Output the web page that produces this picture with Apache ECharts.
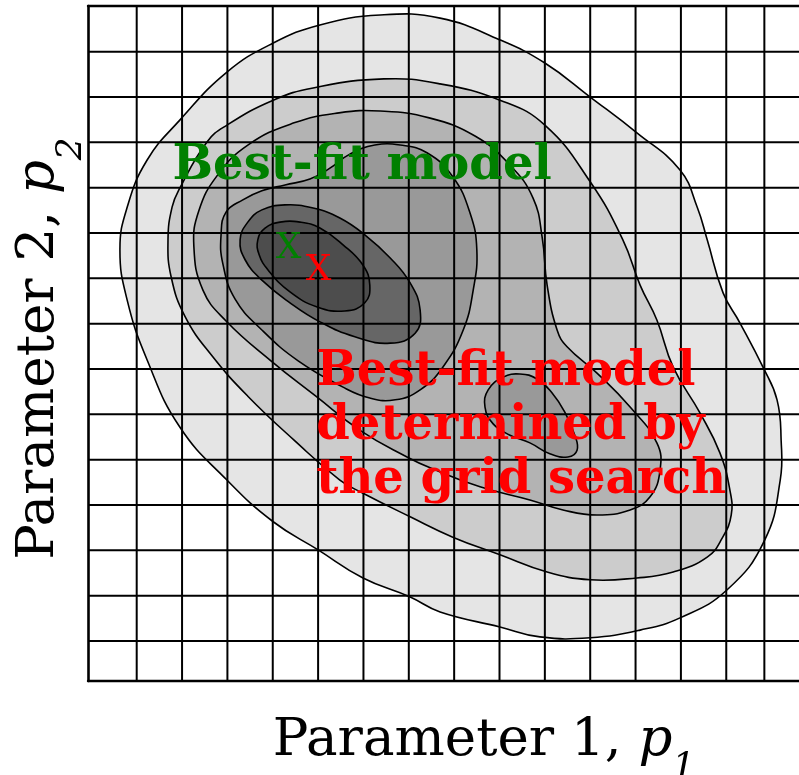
<!DOCTYPE html>
<html><head><meta charset="utf-8">
<script src="https://cdn.jsdelivr.net/npm/echarts@6/dist/echarts.min.js"></script>
<style>html,body{margin:0;padding:0;background:#fff}#c{width:799px;height:775px}</style>
</head><body><div id="c"></div>
<script>
// ---- data (units: one grid cell = 1) ----
const gridX = [1,2,3,4,5,6,7,8,9,10,11,12,13,14,14.84];
const gridY = [1,2,3,4,5,6,7,8,9,10,11,12,13,14];

const contour1 = [[6.37,14.81],[7.69,14.74],[9.01,14.26],[10.00,13.75],[11.00,13.00],[12.03,12.21],[12.98,11.39],[13.36,10.57],[13.58,9.85],[13.93,8.68],[14.30,8.02],[14.81,7.04],[15.12,6.32],[15.21,5.43],[15.19,4.55],[14.85,3.23],[14.02,2.13],[12.98,1.51],[12.10,1.24],[11.00,1.07],[9.89,1.09],[9.01,1.31],[7.69,1.64],[7.03,1.97],[5.99,2.39],[5.00,3.01],[4.01,3.63],[2.99,4.55],[1.95,5.72],[1.23,7.20],[0.79,8.52],[0.63,9.63],[0.79,10.57],[1.23,11.61],[1.95,12.49],[2.99,13.55],[4.01,14.19],[5.04,14.59]];
const contour2 = [[6.45,13.40],[7.69,13.29],[9.01,12.93],[10.00,12.38],[11.00,11.13],[11.72,9.85],[12.10,8.85],[12.47,8.08],[12.83,7.04],[13.42,6.03],[13.86,5.15],[14.08,4.33],[14.11,3.78],[13.91,3.27],[13.58,2.85],[12.83,2.52],[12.03,2.39],[11.00,2.35],[10.05,2.52],[9.01,2.90],[7.97,3.29],[7.03,3.74],[5.99,4.26],[5.48,4.55],[4.47,5.43],[3.45,6.40],[2.66,7.29],[2.07,8.15],[1.76,9.03],[1.69,9.85],[1.78,10.57],[1.95,10.99],[2.55,12.01],[2.99,12.38],[4.01,12.93],[4.89,13.20]];
const contour3 = [[6.37,12.69],[7.45,12.54],[8.46,12.14],[9.23,11.50],[9.74,10.77],[9.94,9.91],[10.05,8.85],[10.27,7.86],[10.49,7.49],[11.15,6.91],[11.88,6.16],[12.47,5.37],[12.54,4.77],[12.32,4.18],[11.88,3.89],[11.15,3.78],[10.40,3.89],[9.67,4.11],[8.57,4.40],[7.47,4.82],[6.96,5.06],[5.95,5.63],[4.95,6.40],[3.96,7.18],[2.97,8.06],[2.46,8.74],[2.26,9.71],[2.37,10.49],[2.77,11.26],[3.45,11.94],[4.47,12.43],[5.46,12.65]];
const contour4 = [[2.86,9.96],[2.97,10.46],[3.34,10.73],[3.76,10.93],[4.27,11.06],[4.82,11.19],[5.26,11.43],[5.70,11.74],[6.25,11.94],[6.81,11.94],[7.40,11.77],[7.97,11.24],[8.35,10.44],[8.50,9.63],[8.42,8.74],[8.20,7.86],[7.75,7.04],[7.25,6.54],[6.70,6.32],[6.14,6.36],[5.55,6.60],[4.56,7.18],[3.76,7.86],[3.17,8.54],[2.90,9.32]];
const contour4b = [[8.68,6.16],[8.75,6.54],[9.08,6.82],[9.45,6.89],[9.83,6.78],[10.16,6.47],[10.44,6.05],[10.66,5.54],[10.71,5.21],[10.51,5.06],[10.11,5.13],[9.67,5.37],[9.23,5.54],[8.86,5.79]];
const contour5 = [[3.28,9.85],[3.45,10.24],[3.76,10.51],[4.27,10.62],[4.89,10.55],[5.48,10.33],[6.03,9.96],[6.59,9.45],[7.03,8.90],[7.25,8.30],[7.14,7.79],[6.59,7.57],[5.81,7.71],[5.04,8.04],[4.38,8.46],[3.76,8.96],[3.39,9.41]];
const contour6 = [[3.67,9.85],[3.83,10.11],[4.16,10.24],[4.60,10.24],[5.04,10.11],[5.55,9.74],[5.99,9.29],[6.14,8.85],[6.03,8.46],[5.59,8.28],[4.98,8.37],[4.38,8.70],[3.90,9.18],[3.70,9.52]];

const trueBest = [4.35, 9.65];
const gridBest = [5.01, 9.18];
const trueLabelAt = [1.79, 11.47];
const gridLabelAt = [4.96, 5.74];
const markText = 'X';
const trueLabel = 'Best-fit model';
const gridLabel = 'Best-fit model\ndetermined by\nthe grid search';
const xLabel = 'Parameter 1, ';
const yLabel = 'Parameter 2, ';

// ---- styles ----
const contours = [contour1, contour2, contour3, contour4, contour4b, contour5, contour6];
const fills = ['#e5e5e5', '#cccccc', '#b3b3b3', '#999999', '#999999', '#666666', '#4d4d4d'];
const X_MIN = -0.074, X_MAX = 15.604, Y_MIN = 0.117, Y_MAX = 15.008;
const SERIF = 'DejaVu Serif';

const chart = echarts.init(document.getElementById('c'), null, {renderer: 'canvas'});

function contourItem(params, api) {
  const pts = contours[params.dataIndex].map(p => api.coord(p));
  return {
    type: 'polygon',
    shape: {points: pts, smooth: 0.45},
    style: {fill: fills[params.dataIndex], stroke: '#000', lineWidth: 1.6}
  };
}
function vLine(params, api) {
  const v = api.value(0);
  const a = api.coord([v, Y_MIN]), b = api.coord([v, Y_MAX]);
  return {type: 'line', shape: {x1: a[0], y1: a[1], x2: b[0], y2: b[1]}, style: {stroke: '#000', lineWidth: 2}};
}
function hLine(params, api) {
  const v = api.value(1);
  const a = api.coord([X_MIN, v]), b = api.coord([X_MAX, v]);
  return {type: 'line', shape: {x1: a[0], y1: a[1], x2: b[0], y2: b[1]}, style: {stroke: '#000', lineWidth: 2}};
}
const textSpecs = [
  {text: markText, font: 'normal 36px "DejaVu Serif"', fill: '#008000', align: 'center', lh: 36},
  {text: markText, font: 'normal 36px "DejaVu Serif"', fill: '#ff0000', align: 'center', lh: 36},
  {text: trueLabel, font: 'bold 48px "DejaVu Serif"', fill: '#008000', align: 'left', lh: 54},
  {text: gridLabel, font: 'bold 48px "DejaVu Serif"', fill: '#ff0000', align: 'left', lh: 54}
];
function textItem(params, api) {
  const p = api.coord([api.value(0), api.value(1)]);
  const s = textSpecs[params.dataIndex];
  return {
    type: 'text', x: p[0], y: p[1],
    style: {text: s.text, font: s.font, fill: s.fill, align: s.align, verticalAlign: 'middle', lineHeight: s.lh}
  };
}

function nameRich(subPad, mainLH) {
  return {
    n: {fontFamily: SERIF, fontSize: 53, color: '#000', lineHeight: mainLH},
    i: {fontFamily: SERIF, fontSize: 53, fontStyle: 'italic', color: '#000', lineHeight: mainLH},
    s: {fontFamily: SERIF, fontSize: 36, fontStyle: 'italic', color: '#000', lineHeight: 36, padding: [subPad, 0, 0, 0]}
  };
}

chart.setOption({
  animation: false,
  backgroundColor: '#fff',
  grid: {left: 88, top: 6, width: 711, height: 675, outerBoundsMode: 'none', containLabel: false},
  xAxis: [{
    type: 'value', min: X_MIN, max: X_MAX,
    axisLine: {show: true, onZero: false, lineStyle: {color: '#000', width: 2.4}},
    axisTick: {show: false}, axisLabel: {show: false}, splitLine: {show: false},
    name: '{n|' + xLabel + '}{i|p}{s|1}', nameLocation: 'middle', nameGap: 10,
    nameTextStyle: {rich: nameRich(55, 100), padding: [0, 0, 0, 81]}
  }, {
    type: 'value', min: X_MIN, max: X_MAX, position: 'top',
    axisLine: {show: true, onZero: false, lineStyle: {color: '#000', width: 2.4}},
    axisTick: {show: false}, axisLabel: {show: false}, splitLine: {show: false}
  }],
  yAxis: {
    type: 'value', min: Y_MIN, max: Y_MAX,
    axisLine: {show: true, onZero: false, lineStyle: {color: '#000', width: 2.6}},
    axisTick: {show: false}, axisLabel: {show: false}, splitLine: {show: false},
    name: '{n|' + yLabel + '}{i|p}{s|2}', nameLocation: 'middle', nameGap: 9,
    nameTextStyle: {rich: nameRich(66, 80), padding: [0, 10, 0, 0]}
  },
  series: [
    {type: 'custom', renderItem: contourItem, data: contours.map(c => c[0]), clip: false, z: 1, silent: true},
    {type: 'custom', renderItem: vLine, data: gridX.map(v => [v, Y_MIN]), z: 2, silent: true, clip: false},
    {type: 'custom', renderItem: hLine, data: gridY.map(v => [X_MIN, v]), z: 2, silent: true, clip: false},
    {type: 'custom', renderItem: textItem, data: [trueBest, gridBest, trueLabelAt, gridLabelAt], z: 5, silent: true, clip: false}
  ]
});
</script></body></html>
